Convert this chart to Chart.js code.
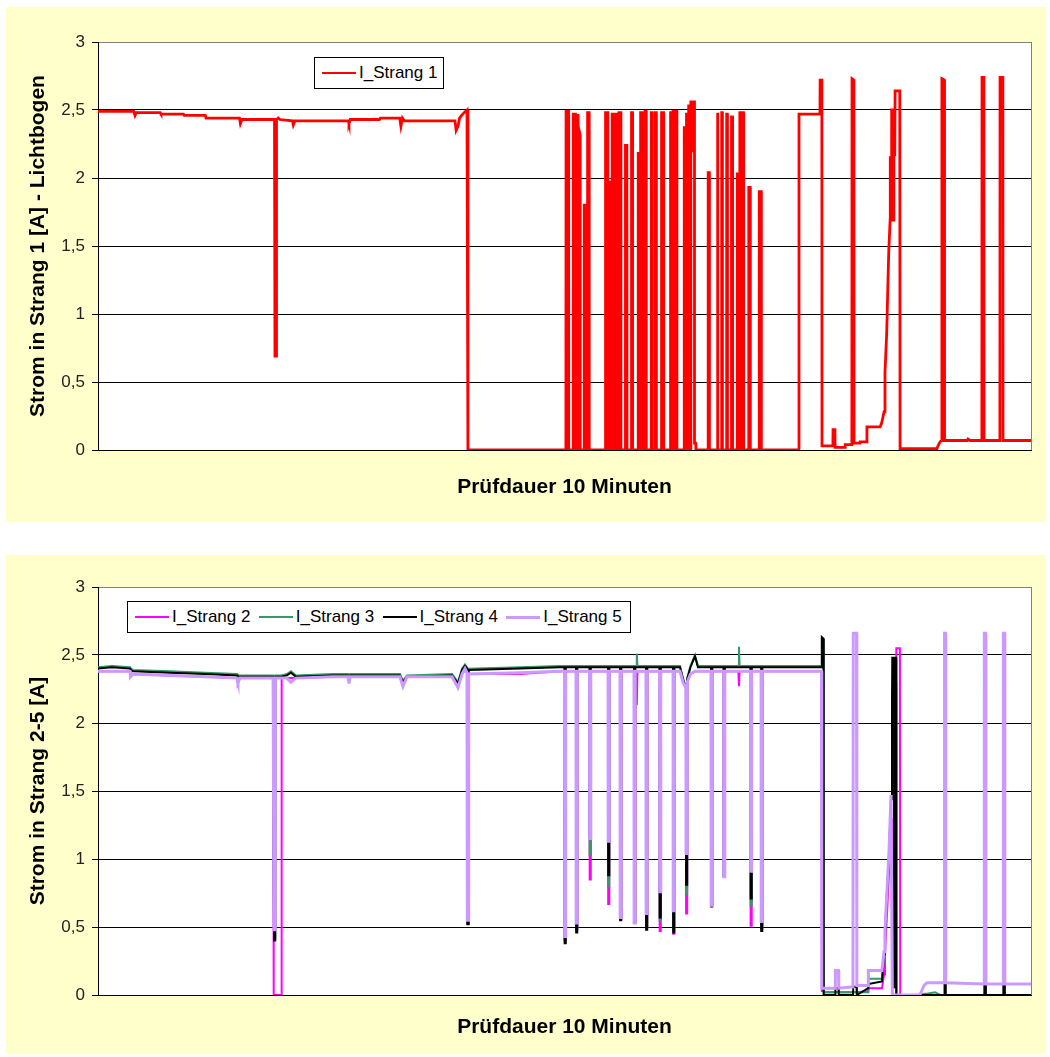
<!DOCTYPE html>
<html lang="de">
<head>
<meta charset="utf-8">
<title>Strom in Strang 1-5</title>
<script src="https://cdn.jsdelivr.net/npm/chart.js@4.4.1/dist/chart.umd.min.js"></script>
<style>
  body { margin: 0; background: #fff; width: 1050px; height: 1057px; position: relative; font-family: "Liberation Sans", Arial, sans-serif; }
  .panel { position: absolute; left: 6px; width: 1040px; background: #ffffcc; }
  #p1 { top: 7px; height: 515px; }
  #p2 { top: 555px; height: 499px; }
  .panel canvas { position: absolute; left: 0; top: 0; }
  .legend { position: absolute; height: 32px; box-sizing: border-box; background: #fff; border: 1px solid #000;
            display: flex; align-items: center; padding-left: 7px; font-size: 17px; color: #000; }
  .item { display: flex; align-items: center; width: 125px; white-space: nowrap; }
  .swatch { width: 34px; margin-right: 3px; }
</style>
</head>
<body>
<div class="panel" id="p1">
  <canvas id="c1" width="1040" height="515"></canvas>
  <div class="legend" id="legend1" style="left:308px; top:50px; width:130px;"></div>
</div>
<div class="panel" id="p2">
  <canvas id="c2" width="1040" height="499"></canvas>
  <div class="legend" id="legend2" style="left:121px; top:46px; width:504px;"></div>
</div>
<script>
// Zeit in Sekunden (Prüfdauer 10 Minuten), Ströme in A
const yTickLabels = ['0', '0,5', '1', '1,5', '2', '2,5', '3'];

const names1 = ['I_Strang 1'];
const colors1 = ['#ff0000'];

const t1 = [0, 23.0, 23.8, 24.6, 40.0, 40.5, 55.0, 55.5, 69.0, 69.5, 91.0, 91.6, 92.6, 113.5, 113.8, 114.5, 114.8, 116.0, 117.0, 125.0,
  125.6, 126.6, 161.0, 161.4, 162.2, 181.0, 181.6, 194.0, 194.8, 195.8, 197.0, 229.6, 230.3, 231.5, 232.5, 234.5, 237.3, 237.9,
  300.9, 301.0, 302.6, 302.7,
  305.5, 305.6, 307.1, 307.1, 307.2, 307.2, 308.7, 308.7, 308.8, 308.8, 310.0, 310.1,
  312.6, 312.7, 313.6, 313.7, 313.8, 314.7, 314.8, 314.9, 315.8, 315.9,
  326.3, 326.4, 327.8, 327.8, 327.9, 329.2, 329.2, 329.3, 330.6, 330.6, 330.7, 332.0, 332.0, 332.1, 333.4, 333.4, 333.5, 334.9, 334.9, 335.0, 336.2, 336.3,
  339.1, 339.2, 340.1, 340.2,
  343.0, 343.1, 343.7, 343.8,
  347.3, 347.4, 348.9, 348.9, 349.0, 350.4, 350.4, 350.5, 351.8, 351.8, 351.9, 352.5, 352.6,
  355.7, 355.8, 356.3, 356.4,
  358.2, 358.3, 359.0, 359.1,
  362.3, 362.4, 363.7, 363.8,
  368.1, 368.2, 369.7, 369.7, 369.8, 370.9, 370.9, 371.0, 372.2, 372.3,
  376.9, 377.0, 378.4, 378.4, 378.5, 379.8, 379.8, 379.9, 381.2, 381.2, 381.3, 382.3, 382.3, 382.4, 383.6, 383.6, 384.4, 384.5,
  392.3, 392.4, 393.1, 393.2,
  398.1, 398.2, 398.6, 398.7,
  401.0, 401.1, 401.5, 401.5, 401.6,
  404.2, 404.3, 404.7, 404.8,
  407.3, 407.4, 408.0, 408.1,
  411.0, 411.1, 412.7, 412.7, 412.8, 414.0, 414.0, 414.1, 415.1, 415.2,
  418.4, 418.5, 419.4, 419.5,
  425.1, 425.2, 425.3, 426.5, 426.6, 450.7,
  450.8, 464.3, 464.4, 465.5, 465.6, 472.6, 472.7, 473.9, 474.0, 480.4, 480.5, 484.8, 484.9, 486.1, 486.2, 490.0, 490.1, 494.4, 494.5, 503.0,
  504.0, 505.5, 506.1, 507.2, 507.8, 508.5, 509.4, 509.5, 510.3, 510.4, 511.0, 511.1, 511.7, 511.8, 512.4, 512.6, 515.6, 515.8, 539.5, 540.2,
  541.5, 542.6, 542.7, 544.3, 544.4, 559.0, 559.5, 560.8, 568.4, 568.5, 569.7, 569.8, 580.0, 580.1, 581.9, 582.0, 600];

const strang1 = [2.49, 2.49, 2.46, 2.48, 2.48, 2.47, 2.47, 2.46, 2.46, 2.44, 2.44, 2.40, 2.43, 2.43, 0.69, 0.69, 2.43, 2.44, 2.43, 2.42,
  2.39, 2.42, 2.42, 2.40, 2.43, 2.43, 2.44, 2.44, 2.38, 2.44, 2.42, 2.42, 2.35, 2.38, 2.44, 2.47, 2.50, 0,
  0, 2.49, 2.49, 0,
  0, 2.47, 2.47, 0, 0, 2.46, 2.46, 0, 0, 2.38, 2.32, 0,
  0, 1.80, 1.80, 0, 1.24, 1.24, 0, 2.48, 2.48, 0,
  0, 2.48, 2.48, 0, 1.97, 1.97, 0, 1.67, 1.67, 0, 2.47, 2.47, 0, 2.47, 2.47, 0, 1.97, 1.97, 0, 2.48, 2.48, 0,
  0, 2.24, 2.24, 0,
  0, 2.48, 2.48, 0,
  0, 2.18, 2.18, 0, 2.48, 2.48, 0, 2.48, 2.48, 0, 2.49, 2.49, 0,
  0, 2.48, 2.48, 0,
  0, 2.48, 2.48, 0,
  0, 2.48, 2.48, 0,
  0, 2.48, 2.48, 0, 2.49, 2.49, 0, 2.49, 2.49, 0,
  0, 2.37, 2.37, 0, 2.47, 2.47, 0, 2.53, 2.53, 0, 2.56, 2.56, 2.19, 2.56, 2.56, 0.05, 0.05, 0,
  0, 2.04, 2.04, 0,
  0, 2.48, 2.48, 0,
  0, 2.48, 2.48, 0.36, 0,
  0, 2.47, 2.47, 0,
  0, 2.45, 2.45, 0,
  0, 2.03, 2.03, 0, 2.48, 2.48, 0, 2.48, 2.48, 0,
  0, 1.93, 1.93, 0,
  0, 0.96, 1.90, 1.90, 0, 0,
  2.47, 2.47, 2.72, 2.72, 0.03, 0.03, 0.15, 0.15, 0.02, 0.02, 0.04, 0.04, 2.73, 2.72, 0.05, 0.05, 0.06, 0.06, 0.17, 0.17,
  0.20, 0.28, 0.57, 0.86, 1.14, 1.45, 1.69, 2.15, 2.15, 2.50, 2.50, 1.69, 1.69, 2.17, 2.17, 2.64, 2.64, 0.01, 0.01, 0.03,
  0.06, 0.07, 2.73, 2.72, 0.07, 0.07, 0.08, 0.07, 0.07, 2.74, 2.74, 0.07, 0.07, 2.74, 2.74, 0.07, 0.07];

const names2 = ['I_Strang 2', 'I_Strang 3', 'I_Strang 4', 'I_Strang 5'];
const colors2 = ['#ff00ff', '#339966', '#000000', '#cc99ff'];

const tB = [0, 9.0, 20.6, 21.0, 22.5, 46.3, 68.8, 89.4, 90.0, 91.3,
  112.6, 112.9, 113.1, 113.2, 113.9, 114.0, 117.9, 118.1, 121.5, 124.1,
  127.3, 151.1, 160.8, 161.4, 162.1, 194.2, 196.1, 198.7, 227.7, 231.5,
  234.1, 236.0, 237.3, 237.5, 238.2, 238.4, 271.4, 297.1,
  300.0, 300.1, 300.7, 300.8,
  307.4, 307.5, 308.1, 308.2,
  316.1, 316.2, 316.8, 316.9,
  328.0, 328.1, 328.7, 328.8,
  335.7, 335.8, 336.4, 336.5,
  344.7, 344.8, 345.4, 345.5,
  346.2, 346.5, 346.9,
  352.4, 352.5, 353.1, 353.2,
  361.1, 361.2, 361.8, 361.9,
  369.8, 369.9, 370.5, 370.6,
  374.3, 376.2, 377.5, 378.1, 378.2, 378.8, 378.9, 381.0, 383.9, 385.8,
  394.2, 394.3, 394.9, 395.0,
  402.3, 402.4, 403.0, 403.1,
  411.8, 412.2, 412.6,
  419.6, 419.7, 420.3, 420.4,
  426.4, 426.5, 427.1, 427.2,
  465.3, 465.5, 466.5, 466.7, 474.0, 474.2, 476.2, 476.4, 485.5, 485.7, 487.8, 488.0,
  495.2, 495.4, 504.2, 505.5, 506.1, 507.4, 508.7, 510.0, 510.6, 510.8, 511.9, 512.0, 512.2, 513.2, 513.4, 515.7, 515.9,
  528.6, 531.2, 533.1, 538.3, 541.5, 544.2, 544.4, 545.0, 545.2,
  569.8, 570.0, 570.8, 571.0, 582.0, 582.2, 583.0, 583.2, 600];

const strang2 = [2.38, 2.38, 2.38, 2.35, 2.36, 2.35, 2.34, 2.33, 2.29, 2.33,
  2.33, 0, 0, 0, 0, 0, 0, 2.33, 2.33, 2.33,
  2.33, 2.34, 2.34, 2.30, 2.34, 2.34, 2.27, 2.34, 2.34, 2.26,
  2.36, 2.39, 2.37, 0.54, 0.54, 2.36, 2.36, 2.38,
  2.38, 0.41, 0.41, 2.38,
  2.38, 0.48, 0.48, 2.38,
  2.38, 0.85, 0.85, 2.38,
  2.38, 0.67, 0.67, 2.38,
  2.38, 0.56, 0.56, 2.38,
  2.38, 0.54, 0.54, 2.38,
  2.38, 2.13, 2.38,
  2.38, 0.50, 0.50, 2.38,
  2.38, 0.47, 0.47, 2.38,
  2.38, 0.45, 0.45, 2.38,
  2.38, 2.30, 2.27, 2.28, 0.60, 0.60, 2.30, 2.36, 2.38, 2.38,
  2.38, 0.67, 0.67, 2.38,
  2.38, 0.88, 0.88, 2.38,
  2.38, 2.27, 2.38,
  2.38, 0.51, 0.51, 2.38,
  2.38, 0.49, 0.49, 2.38,
  2.38, 0.03, 0.03, 0.02, 0.02, 0.02, 0.02, 0.02, 0.02, 0.02, 0.02, 0.02,
  0.03, 0.05, 0.05, 0.15, 0.30, 0.60, 0.90, 1.20, 1.30, 0, 0, 0, 0, 0, 2.55, 2.55, 0,
  0, 0, 0, 0, 0, 0, 0, 0, 0,
  0, 0, 0, 0, 0, 0, 0, 0, 0];

const strang3 = [2.41, 2.42, 2.41, 2.40, 2.39, 2.38, 2.37, 2.36, 2.35, 2.35,
  2.35, 2.35, 2.35, 0.42, 0.42, 2.35, 2.35, 2.35, 2.36, 2.38,
  2.35, 2.36, 2.36, 2.35, 2.36, 2.36, 2.31, 2.35, 2.36, 2.30,
  2.40, 2.43, 2.41, 0.53, 0.53, 2.40, 2.41, 2.42,
  2.42, 0.40, 0.40, 2.42,
  2.42, 0.48, 0.48, 2.42,
  2.42, 1.03, 1.03, 2.42,
  2.42, 0.80, 0.80, 2.42,
  2.42, 0.56, 0.56, 2.42,
  2.42, 0.54, 0.54, 2.42,
  2.42, 2.51, 2.42,
  2.42, 0.50, 0.50, 2.42,
  2.42, 0.55, 0.55, 2.42,
  2.42, 0.47, 0.47, 2.42,
  2.42, 2.33, 2.28, 2.30, 0.74, 0.74, 2.33, 2.42, 2.50, 2.42,
  2.42, 0.67, 0.67, 2.42,
  2.42, 0.88, 0.88, 2.42,
  2.42, 2.56, 2.42,
  2.42, 0.66, 0.66, 2.42,
  2.42, 0.49, 0.49, 2.42,
  2.42, 2.63, 2.62, 0.02, 0.02, 0.02, 0.02, 0.02, 0.02, 0.02, 0.02, 0.02,
  0.02, 0.12, 0.12, 0.30, 0.45, 0.75, 1.02, 1.45, 2.15, 2.15, 2.20, 0.05, 2.25, 2.30, 0, 0, 0,
  0, 0.01, 0.01, 0.02, 0, 0, 0, 0, 0,
  0, 0, 0, 0, 0, 0, 0, 0, 0];

const strang4 = [2.40, 2.41, 2.40, 2.39, 2.38, 2.37, 2.36, 2.35, 2.34, 2.34,
  2.34, 2.34, 2.34, 0.40, 0.40, 2.34, 2.34, 2.34, 2.35, 2.37,
  2.34, 2.35, 2.35, 2.34, 2.35, 2.35, 2.30, 2.34, 2.35, 2.29,
  2.39, 2.42, 2.40, 0.52, 0.52, 2.39, 2.40, 2.41,
  2.41, 0.38, 0.38, 2.41,
  2.41, 0.46, 0.46, 2.41,
  2.41, 1.16, 1.16, 2.41,
  2.41, 0.88, 0.88, 2.41,
  2.41, 0.55, 0.55, 2.41,
  2.41, 0.53, 0.53, 2.41,
  2.41, 2.41, 2.41,
  2.41, 0.48, 0.48, 2.41,
  2.41, 0.57, 0.57, 2.41,
  2.41, 0.46, 0.46, 2.41,
  2.41, 2.32, 2.27, 2.29, 0.81, 0.81, 2.32, 2.41, 2.49, 2.41,
  2.41, 0.65, 0.65, 2.41,
  2.41, 0.88, 0.88, 2.41,
  2.41, 2.41, 2.41,
  2.41, 0.71, 0.71, 2.41,
  2.41, 0.47, 0.47, 2.41,
  2.41, 2.63, 2.62, 0, 0, 0.05, 0.05, 0, 0, 0.06, 0.06, 0,
  0.05, 0.08, 0.10, 0.30, 0.45, 0.74, 1.02, 1.44, 2.15, 2.48, 2.48, 0.05, 2.48, 2.48, 0, 0, 0,
  0, 0, 0, 0, 0, 0, 0.09, 0.09, 0,
  0, 0.08, 0.08, 0, 0, 0.08, 0.08, 0, 0];

const strang5 = [2.38, 2.38, 2.38, 2.34, 2.36, 2.35, 2.34, 2.33, 2.30, 2.33,
  2.33, 2.33, 2.33, 0.48, 0.48, 2.33, 2.33, 2.33, 2.33, 2.30,
  2.33, 2.34, 2.34, 2.29, 2.34, 2.34, 2.27, 2.34, 2.34, 2.26,
  2.36, 2.40, 2.37, 0.55, 0.55, 2.36, 2.37, 2.38,
  2.38, 0.43, 0.43, 2.38,
  2.38, 0.53, 0.53, 2.38,
  2.38, 1.15, 1.15, 2.38,
  2.38, 1.13, 1.13, 2.38,
  2.38, 0.57, 0.57, 2.38,
  2.38, 0.53, 0.53, 2.38,
  2.38, 2.38, 2.38,
  2.38, 0.60, 0.60, 2.38,
  2.38, 0.76, 0.76, 2.38,
  2.38, 0.62, 0.62, 2.38,
  2.38, 2.30, 2.27, 2.28, 1.04, 1.04, 2.30, 2.36, 2.38, 2.38,
  2.38, 0.66, 0.66, 2.38,
  2.38, 0.87, 0.87, 2.38,
  2.38, 2.38, 2.38,
  2.38, 0.91, 0.91, 2.38,
  2.38, 0.54, 0.54, 2.38,
  2.38, 0.05, 0.05, 0.05, 0.05, 0.18, 0.18, 0.05, 0.06, 2.66, 2.66, 0.07,
  0.07, 0.18, 0.18, 0.32, 0.48, 0.77, 1.06, 1.47, 1.47, 0, 0, 0, 0, 0, 0, 0, 0,
  0, 0.07, 0.09, 0.09, 0.09, 0.09, 2.66, 2.66, 0.09,
  0.08, 2.66, 2.66, 0.08, 0.08, 2.66, 2.66, 0.08, 0.08];

Chart.defaults.font.family = '"Liberation Sans", Arial, sans-serif';
Chart.defaults.color = '#000';

function points(ts, vs) {
  return ts.map((t, i) => ({ x: t, y: vs[i] }));
}

// white plot area + grey right border like the Excel original
const plotFrame = {
  id: 'plotFrame',
  beforeDraw(chart) {
    const { ctx, chartArea: a } = chart;
    ctx.save();
    ctx.fillStyle = '#fff';
    ctx.fillRect(a.left, a.top, a.right - a.left, a.bottom - a.top);
    ctx.restore();
  },
  beforeDatasetsDraw(chart) {
    const { ctx, chartArea: a } = chart;
    ctx.save();
    ctx.strokeStyle = '#808080';
    ctx.lineWidth = 1;
    ctx.beginPath();
    ctx.moveTo(Math.round(a.right) + 0.5, a.top);
    ctx.lineTo(Math.round(a.right) + 0.5, a.bottom);
    ctx.stroke();
    ctx.restore();
  }
};

function makeOptions(yTitle, padTop, xHeight, xTitlePad) {
  return {
    responsive: false,
    animation: false,
    parsing: false,
    normalized: true,
    layout: { padding: { left: 0, top: padTop, right: 15, bottom: 0 } },
    plugins: { legend: { display: false }, tooltip: { enabled: false } },
    elements: { point: { radius: 0 }, line: { tension: 0 } },
    scales: {
      x: {
        type: 'linear', min: 0, max: 600,
        ticks: { display: false },
        grid: { display: false },
        border: { color: '#000', width: 1 },
        title: { display: true, text: 'Prüfdauer 10 Minuten', font: { size: 21, weight: 'bold' }, color: '#000',
                 padding: { top: 0, bottom: xTitlePad } },
        afterFit: s => { s.height = xHeight; }
      },
      y: {
        min: 0, max: 3,
        ticks: { stepSize: 0.5, padding: 7, color: '#222', font: { size: 17 },
                 callback: (v, i) => yTickLabels[i] },
        grid: { color: c => (c.tick && c.tick.value === 3 ? '#808080' : '#000'), lineWidth: 1,
                tickColor: '#000', tickLength: 6 },
        border: { color: '#000', width: 1 },
        title: { display: true, text: yTitle, font: { size: 21, weight: 'bold' }, color: '#000',
                 padding: { top: 20, bottom: 0 } },
        afterFit: s => { s.width = 92; }
      }
    }
  };
}

new Chart(document.getElementById('c1'), {
  type: 'line',
  data: {
    datasets: [{
      label: names1[0], data: points(t1, strang1),
      borderColor: colors1[0], borderWidth: 2.8, fill: false
    }]
  },
  options: makeOptions('Strom in Strang 1 [A] - Lichtbogen', 35, 72, 22),
  plugins: [plotFrame]
});

const series2 = [strang2, strang3, strang4, strang5];
const widths2 = [2, 2, 2, 3];
new Chart(document.getElementById('c2'), {
  type: 'line',
  data: {
    datasets: series2.map((s, i) => ({
      label: names2[i], data: points(tB, s),
      borderColor: colors2[i], borderWidth: widths2[i], fill: false,
      order: series2.length - i   // I_Strang 5 on top, as in the original
    }))
  },
  options: makeOptions('Strom in Strang 2-5 [A]', 32, 59, 14),
  plugins: [plotFrame]
});

// legends as HTML boxes
function buildLegend(el, names, colors, widths) {
  names.forEach((n, i) => {
    const item = document.createElement('div');
    item.className = 'item';
    const sw = document.createElement('span');
    sw.className = 'swatch';
    sw.style.height = widths[i] + 'px';
    sw.style.background = colors[i];
    const tx = document.createElement('span');
    tx.textContent = n;
    item.appendChild(sw);
    item.appendChild(tx);
    el.appendChild(item);
  });
}
buildLegend(document.getElementById('legend1'), names1, colors1, [2.5]);
buildLegend(document.getElementById('legend2'), names2, colors2, widths2);
</script>
</body>
</html>
